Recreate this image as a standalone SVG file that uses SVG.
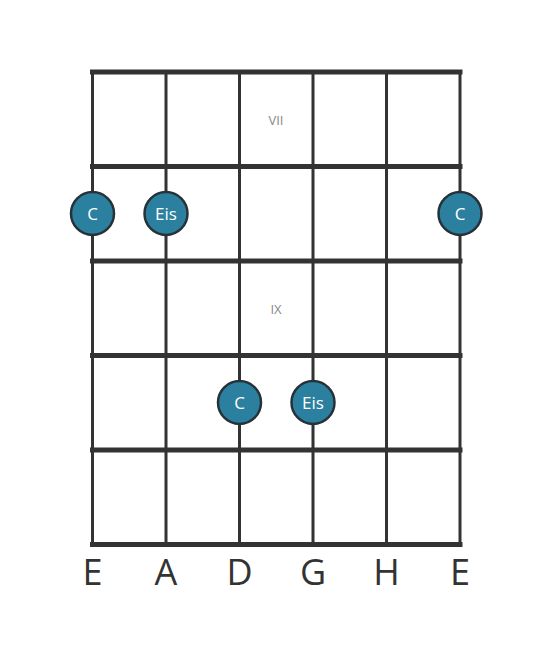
<svg xmlns="http://www.w3.org/2000/svg" width="553" height="656" viewBox="0 0 553 656">
<style>
.fret{stroke:#333;stroke-width:5;stroke-linecap:square}
.str{stroke:#333;stroke-width:3}
.dot circle{fill:#2a809e;stroke:#263238;stroke-width:2.5}
.dot text{fill:#fff;font-family:"Open Sans",sans-serif;font-size:17px;text-anchor:middle;dominant-baseline:central}
.pos{fill:#888;font-family:"Open Sans",sans-serif;font-size:13px;text-anchor:middle;dominant-baseline:central}
.name{fill:#333;font-family:"Open Sans",sans-serif;font-size:36px;text-anchor:middle}
</style>
<rect width="553" height="656" fill="#fff"/>
<g id="connectors">
<line class="str" x1="92.5" y1="72" x2="92.5" y2="544.5"/>
<line class="str" x1="166" y1="72" x2="166" y2="544.5"/>
<line class="str" x1="239.5" y1="72" x2="239.5" y2="544.5"/>
<line class="str" x1="313" y1="72" x2="313" y2="544.5"/>
<line class="str" x1="386.5" y1="72" x2="386.5" y2="544.5"/>
<line class="str" x1="460" y1="72" x2="460" y2="544.5"/>
<line class="fret" x1="92.5" y1="72" x2="460" y2="72"/>
<line class="fret" x1="92.5" y1="166.5" x2="460" y2="166.5"/>
<line class="fret" x1="92.5" y1="261" x2="460" y2="261"/>
<line class="fret" x1="92.5" y1="355.5" x2="460" y2="355.5"/>
<line class="fret" x1="92.5" y1="450" x2="460" y2="450"/>
<line class="fret" x1="92.5" y1="544.5" x2="460" y2="544.5"/>
</g>
<text class="pos" x="276" y="120">VII</text>
<text class="pos" x="276" y="309">IX</text>
<g id="n1" class="dot"><circle cx="92.5" cy="213.5" r="21.5"/><text x="92.5" y="213.5">C</text></g>
<g id="n2" class="dot"><circle cx="166" cy="213.5" r="21.5"/><text x="166" y="213.5">Eis</text></g>
<g id="n3" class="dot"><circle cx="460" cy="213.5" r="21.5"/><text x="460" y="213.5">C</text></g>
<g id="n4" class="dot"><circle cx="239.5" cy="402.5" r="21.5"/><text x="239.5" y="402.5">C</text></g>
<g id="n5" class="dot"><circle cx="313" cy="402.5" r="21.5"/><text x="313" y="402.5">Eis</text></g>
<g id="labels">
<text class="name" x="92.5" y="585">E</text>
<text class="name" x="166" y="585">A</text>
<text class="name" x="239.5" y="585">D</text>
<text class="name" x="313" y="585">G</text>
<text class="name" x="386.5" y="585">H</text>
<text class="name" x="460" y="585">E</text>
</g>
</svg>
